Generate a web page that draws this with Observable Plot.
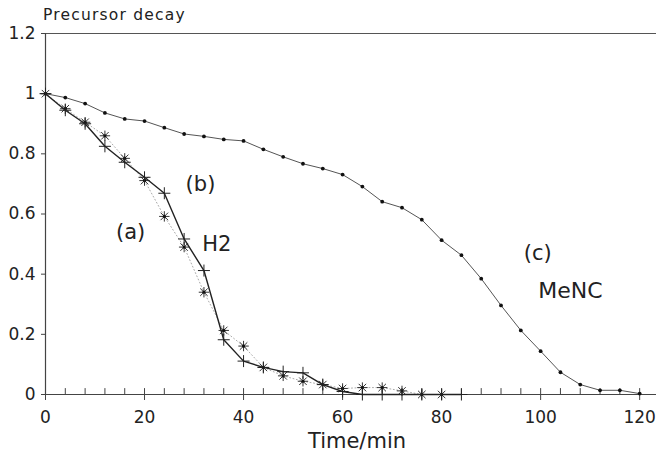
<!DOCTYPE html>
<html><head><meta charset="utf-8">
<script src="https://cdn.jsdelivr.net/npm/d3@7"></script>
<script src="https://cdn.jsdelivr.net/npm/@observablehq/plot@0.6"></script>
<style>
html,body{margin:0;padding:0;background:#fff}
svg{display:block}
#wrap{position:relative;width:656px;height:455px}
#title{position:absolute;left:43px;top:6px;font:500 15.5px/18px "DejaVu Sans",sans-serif;letter-spacing:1.2px;color:#222;white-space:nowrap}
</style>
</head><body><div id="wrap"><div id="chart"></div><div id="title"></div></div>
<script>
// (c) MeNC – small dots every 4 min
const mencTime = [0,4,8,12,16,20,24,28,32,36,40,44,48,52,56,60,64,68,72,76,80,84,88,92,96,100,104,108,112,116,120];
const mencVals = [1.0,0.987,0.967,0.936,0.916,0.909,0.887,0.866,0.858,0.848,0.843,0.815,0.79,0.767,0.751,0.731,0.691,0.641,0.621,0.581,0.513,0.463,0.385,0.296,0.213,0.144,0.074,0.033,0.014,0.014,0.003];
// (b) H2 – solid line with "+" markers
const h2Time = [0,4,8,12,16,20,24,28,32,36,40,44,48,52,56,60,64,68,72,76,80,84];
const h2Vals = [1.0,0.945,0.9,0.825,0.772,0.722,0.669,0.517,0.412,0.182,0.111,0.09,0.076,0.072,0.033,0.01,0,0,0,0,0,0];
// (a) – asterisks with dotted line
const aTime = [0,4,8,12,16,20,24,28,32,36,40,44,48,52,56,60,64,68,72,76,80];
const aVals = [1.0,0.95,0.905,0.86,0.785,0.711,0.592,0.49,0.34,0.213,0.161,0.09,0.062,0.044,0.033,0.02,0.023,0.023,0.012,0.0,0.0];
// axes
const xTicks = [0,20,40,60,80,100,120];
const xUpTicks = [4,8,12,16,20,24,28,32,36,40,44,48,52,56,60,64,68,72,76,80,84,88,92,96,100,104,108,112,116,120];
const yTicks = [0,0.2,0.4,0.6,0.8,1,1.2];
const yTickLabels = ["0","0.2","0.4","0.6","0.8","1","1.2"];
// annotations
const noteText = ["(a)","(b)","H2","(c)","MeNC"];
const noteX = [17.2,31.3,34.6,99.4,106];
const noteY = [0.54,0.70,0.50,0.47,0.345];
const noteSize = [21,21,21,21,22];
const titleText = "Precursor decay";
const xLabelText = "Time/min";

const menc = mencTime.map((t,i)=>({t, v: mencVals[i]}));
const h2 = h2Time.map((t,i)=>({t, v: h2Vals[i]}));
const aa = aTime.map((t,i)=>({t, v: aVals[i]}));
const notes = noteText.map((s,i)=>({s, x: noteX[i], y: noteY[i], fs: noteSize[i]}));

const plusSym = {draw(ctx,size){const r=Math.sqrt(size/Math.PI);ctx.moveTo(-r,0);ctx.lineTo(r,0);ctx.moveTo(0,-r);ctx.lineTo(0,r);}};
const starSym = {draw(ctx,size){const r=Math.sqrt(size/Math.PI);const d=r*0.72;ctx.moveTo(-r,0);ctx.lineTo(r,0);ctx.moveTo(0,-r);ctx.lineTo(0,r);ctx.moveTo(-d,-d);ctx.lineTo(d,d);ctx.moveTo(-d,d);ctx.lineTo(d,-d);}};
const tickUp = {draw(ctx,l){ctx.moveTo(0,0);ctx.lineTo(0,-l);}};

const ink = "#222";
const chart = Plot.plot({
  width: 656, height: 455,
  marginLeft: 45, marginRight: 0, marginTop: 33, marginBottom: 61,
  style: {fontFamily: "DejaVu Sans, sans-serif", color: ink, background: "#fff"},
  x: {domain: [0, 123.4]},
  y: {domain: [0, 1.2]},
  marks: [
    Plot.ruleY([1.2], {stroke: "#555", strokeWidth: 1}),
    Plot.ruleX([0], {stroke: "#444", strokeWidth: 1.2}),
    Plot.ruleY([0], {stroke: "#444", strokeWidth: 1.2}),
    Plot.axisY({ticks: yTicks, tickSize: 4, tickPadding: 6, tickFormat: d => yTickLabels[yTicks.indexOf(d)], fontSize: 17, label: null, stroke: "#444"}),
    Plot.axisX({ticks: xTicks, tickSize: 6, tickPadding: 10, tickFormat: d => String(d), fontSize: 17, label: null, stroke: "#444"}),
    Plot.vector(xUpTicks, {x: d => d, y: () => 0, length: 6, anchor: "start", shape: tickUp, stroke: "#444", strokeWidth: 1}),
    // (c) MeNC
    Plot.line(menc, {x: "t", y: "v", stroke: "#555", strokeWidth: 1}),
    Plot.dot(menc, {x: "t", y: "v", r: 1.9, fill: "#111", stroke: "none"}),
    // (a) dotted
    Plot.line(aa, {x: "t", y: "v", stroke: "#aaa", strokeWidth: 1, strokeDasharray: "1,2.5"}),
    Plot.dot(aa, {x: "t", y: "v", symbol: starSym, r: 5.2, stroke: "#333", strokeWidth: 1, fill: "none"}),
    Plot.dot(aa, {x: "t", y: "v", r: 1.6, fill: "#111", stroke: "none"}),
    // (b) H2
    Plot.line(h2, {x: "t", y: "v", stroke: "#222", strokeWidth: 1.4}),
    Plot.dot(h2, {x: "t", y: "v", symbol: plusSym, r: 6, stroke: "#222", strokeWidth: 1, fill: "none"}),
    // annotations
    Plot.text(notes, {x: "x", y: "y", text: "s", fontSize: d => d.fs, fill: ink, letterSpacing: 1.8}),
    Plot.text([xLabelText], {text: d => d, frameAnchor: "bottom", dx: 6, dy: 53, fontSize: 21, fill: ink, letterSpacing: 2.2})
  ]
});
document.getElementById("chart").appendChild(chart);
document.getElementById("title").textContent = titleText;
</script>
</body></html>
